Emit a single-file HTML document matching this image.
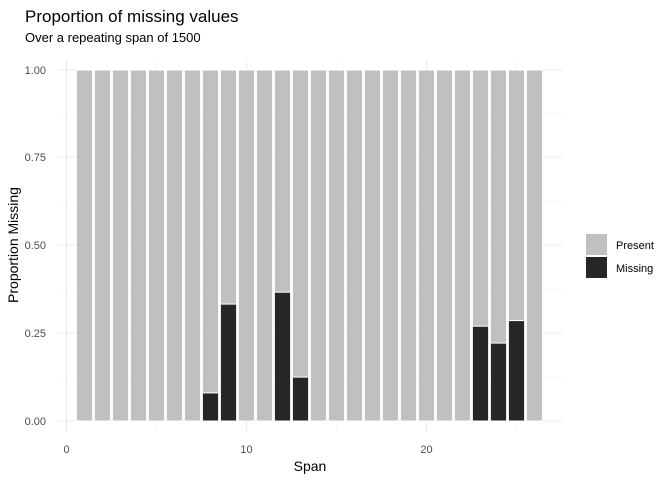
<!DOCTYPE html><html><head><style>body{margin:0;background:#fff}svg{display:block}text{font-family:"Liberation Sans",sans-serif}</style></head><body>
<svg width="672" height="480" xmlns="http://www.w3.org/2000/svg">
<text x="25" y="22" font-size="17" fill="#000">Proportion of missing values</text>
<text x="25" y="42" font-size="13" fill="#000">Over a repeating span of 1500</text>
<g stroke="#f3f3f3" stroke-width="0.6">
<line x1="58" x2="563" y1="377" y2="377"/><line x1="58" x2="563" y1="289" y2="289"/><line x1="58" x2="563" y1="201" y2="201"/><line x1="58" x2="563" y1="113" y2="113"/>
<line x1="156.5" x2="156.5" y1="60" y2="431"/><line x1="336.5" x2="336.5" y1="60" y2="431"/><line x1="516.5" x2="516.5" y1="60" y2="431"/>
</g>
<g stroke="#ebebeb" stroke-width="1.1">
<line x1="58" x2="563" y1="421" y2="421"/><line x1="58" x2="563" y1="333" y2="333"/><line x1="58" x2="563" y1="245" y2="245"/><line x1="58" x2="563" y1="157" y2="157"/><line x1="58" x2="563" y1="70" y2="70"/>
<line x1="66.5" x2="66.5" y1="60" y2="431"/><line x1="246.5" x2="246.5" y1="60" y2="431"/><line x1="426.5" x2="426.5" y1="60" y2="431"/>
</g>
<g stroke="#fff" stroke-width="1" fill="#c0c0c0">
<rect x="76.4" y="70" width="16.2" height="351"/><rect x="94.4" y="70" width="16.2" height="351"/><rect x="112.4" y="70" width="16.2" height="351"/><rect x="130.4" y="70" width="16.2" height="351"/><rect x="148.4" y="70" width="16.2" height="351"/><rect x="166.4" y="70" width="16.2" height="351"/><rect x="184.4" y="70" width="16.2" height="351"/><rect x="202.4" y="70" width="16.2" height="351"/><rect x="220.4" y="70" width="16.2" height="351"/><rect x="238.4" y="70" width="16.2" height="351"/><rect x="256.4" y="70" width="16.2" height="351"/><rect x="274.4" y="70" width="16.2" height="351"/><rect x="292.4" y="70" width="16.2" height="351"/><rect x="310.4" y="70" width="16.2" height="351"/><rect x="328.4" y="70" width="16.2" height="351"/><rect x="346.4" y="70" width="16.2" height="351"/><rect x="364.4" y="70" width="16.2" height="351"/><rect x="382.4" y="70" width="16.2" height="351"/><rect x="400.4" y="70" width="16.2" height="351"/><rect x="418.4" y="70" width="16.2" height="351"/><rect x="436.4" y="70" width="16.2" height="351"/><rect x="454.4" y="70" width="16.2" height="351"/><rect x="472.4" y="70" width="16.2" height="351"/><rect x="490.4" y="70" width="16.2" height="351"/><rect x="508.4" y="70" width="16.2" height="351"/><rect x="526.4" y="70" width="16.2" height="351"/>
</g>
<g stroke="#fff" stroke-width="1" fill="#262626">
<rect x="202.4" y="392.9" width="16.2" height="28.1"/>
<rect x="220.4" y="304.1" width="16.2" height="116.9"/>
<rect x="274.4" y="292.2" width="16.2" height="128.8"/>
<rect x="292.4" y="377.1" width="16.2" height="43.9"/>
<rect x="472.4" y="326.2" width="16.2" height="94.8"/>
<rect x="490.4" y="343.1" width="16.2" height="77.9"/>
<rect x="508.4" y="320.6" width="16.2" height="100.4"/>
</g>
<g font-size="11" fill="#4d4d4d" text-anchor="end">
<text x="46" y="425">0.00</text><text x="46" y="337">0.25</text><text x="46" y="249">0.50</text><text x="46" y="161">0.75</text><text x="46" y="74">1.00</text>
</g>
<g font-size="11" fill="#4d4d4d" text-anchor="middle">
<text x="66.5" y="453">0</text><text x="246.5" y="453">10</text><text x="426.5" y="453">20</text>
</g>
<text x="310" y="471" font-size="14" text-anchor="middle">Span</text>
<text transform="translate(18,245) rotate(-90)" font-size="14" text-anchor="middle">Proportion Missing</text>
<rect x="586" y="234" width="21" height="21" fill="#c0c0c0"/>
<rect x="586" y="257" width="21" height="21" fill="#262626"/>
<text x="616" y="249" font-size="11">Present</text>
<text x="616" y="272" font-size="11">Missing</text>
</svg></body></html>
